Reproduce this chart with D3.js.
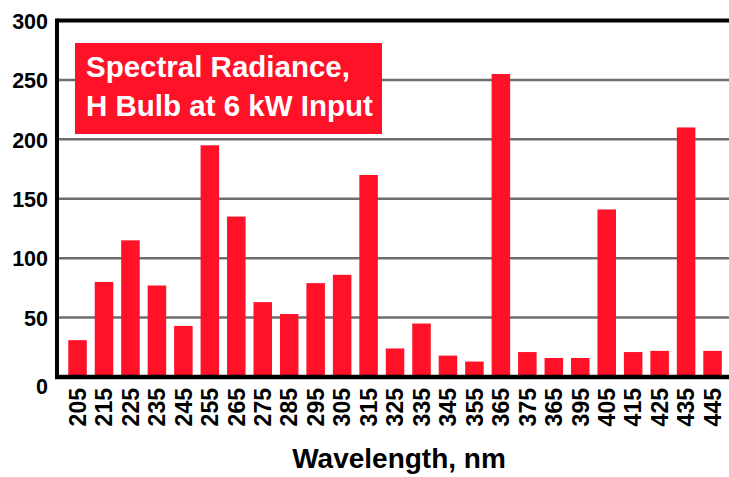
<!DOCTYPE html>
<html><head><meta charset="utf-8">
<script src="https://cdn.jsdelivr.net/npm/d3@7"></script>
<style>body{margin:0;background:#fff}svg{display:block}</style>
</head><body><svg id="c" width="729" height="477"></svg>
<script>
// ---- data ----
const wavelengthLabels = ["205","215","225","235","245","255","265","275","285","295","305","315","325","335","345","355","365","375","365","395","405","415","425","435","445"];
const radiance = [31,80,115,77,43,195,135,63,53,79,86,170,24,45,18,13,255,21,16,16,141,21,22,210,22];
const yTicks = [0,50,100,150,200,250,300];
const titleLines = ["Spectral Radiance,","H Bulb at 6 kW Input"];
const xTitle = "Wavelength, nm";

(function () {
// ---- layout ----
const W = 729, H = 477;
const mLeft = 57, mRight = 729, mTop = 20.5, mBottom = 377;
const FONT = "'Liberation Sans', Arial, Helvetica, sans-serif";
const RED = "#ff1228";

const svg = d3.select("#c");
svg.append("rect").attr("width", W).attr("height", H).attr("fill", "#fff");

const x = d3.scaleBand()
  .domain(d3.range(radiance.length))
  .range([57.7, 732.4])
  .paddingInner(0.3)
  .paddingOuter(0.4);

const y = d3.scaleLinear().domain([0, 300]).range([mBottom, mTop]);

// gridlines
svg.append("g")
  .selectAll("line")
  .data(yTicks.filter(t => t > 0 && t < 300))
  .join("line")
  .attr("x1", mLeft).attr("x2", mRight)
  .attr("y1", d => y(d)).attr("y2", d => y(d))
  .attr("stroke", "#6e6e6e").attr("stroke-width", 2.5);

// title box
const tb = svg.append("g");
tb.append("rect").attr("x", 75).attr("y", 43).attr("width", 307).attr("height", 91).attr("fill", RED);
tb.selectAll("text").data(titleLines).join("text")
  .attr("x", 86).attr("y", (d, i) => 77 + i * 39)
  .attr("fill", "#fff")
  .attr("font-family", FONT).attr("font-weight", "bold").attr("font-size", 29.5)
  .text(d => d);

// bars
svg.append("g")
  .selectAll("rect")
  .data(radiance)
  .join("rect")
  .attr("x", (d, i) => x(i))
  .attr("width", x.bandwidth())
  .attr("y", d => y(d))
  .attr("height", d => mBottom - y(d))
  .attr("fill", RED);

// frame lines
svg.append("line").attr("x1", mLeft).attr("x2", mRight).attr("y1", mTop).attr("y2", mTop)
  .attr("stroke", "#000").attr("stroke-width", 4);
svg.append("line").attr("x1", mLeft).attr("x2", mLeft).attr("y1", mTop - 2).attr("y2", mBottom + 2)
  .attr("stroke", "#000").attr("stroke-width", 4);
svg.append("line").attr("x1", mLeft - 2).attr("x2", mRight).attr("y1", mBottom).attr("y2", mBottom)
  .attr("stroke", "#000").attr("stroke-width", 4.5);

// y axis labels
const yAxis = d3.axisLeft(y).tickValues(yTicks).tickSize(0).tickPadding(9);
const gy = svg.append("g").attr("transform", `translate(${mLeft},0)`).call(yAxis);
gy.select(".domain").remove();
gy.selectAll("text")
  .attr("font-family", FONT).attr("font-weight", "bold").attr("font-size", 21.5)
  .attr("fill", "#000")
  .attr("dy", d => d === 0 ? "0.75em" : "0.36em");

// x axis labels
const xAxis = d3.axisBottom(x).tickSize(0).tickFormat(i => wavelengthLabels[i]);
const gx = svg.append("g").attr("transform", `translate(0,${mBottom})`).call(xAxis);
gx.select(".domain").remove();
gx.selectAll("text")
  .attr("font-family", FONT).attr("font-weight", "bold").attr("font-size", 23)
  .attr("fill", "#000")
  .attr("text-anchor", "end")
  .attr("transform", "rotate(-90)")
  .attr("x", -11).attr("y", 0).attr("dy", "0.36em");

// x title
svg.append("text")
  .attr("x", 399).attr("y", 468)
  .attr("text-anchor", "middle")
  .attr("font-family", FONT).attr("font-weight", "bold").attr("font-size", 28)
  .attr("fill", "#000")
  .text(xTitle);
})();
</script>
</body></html>
